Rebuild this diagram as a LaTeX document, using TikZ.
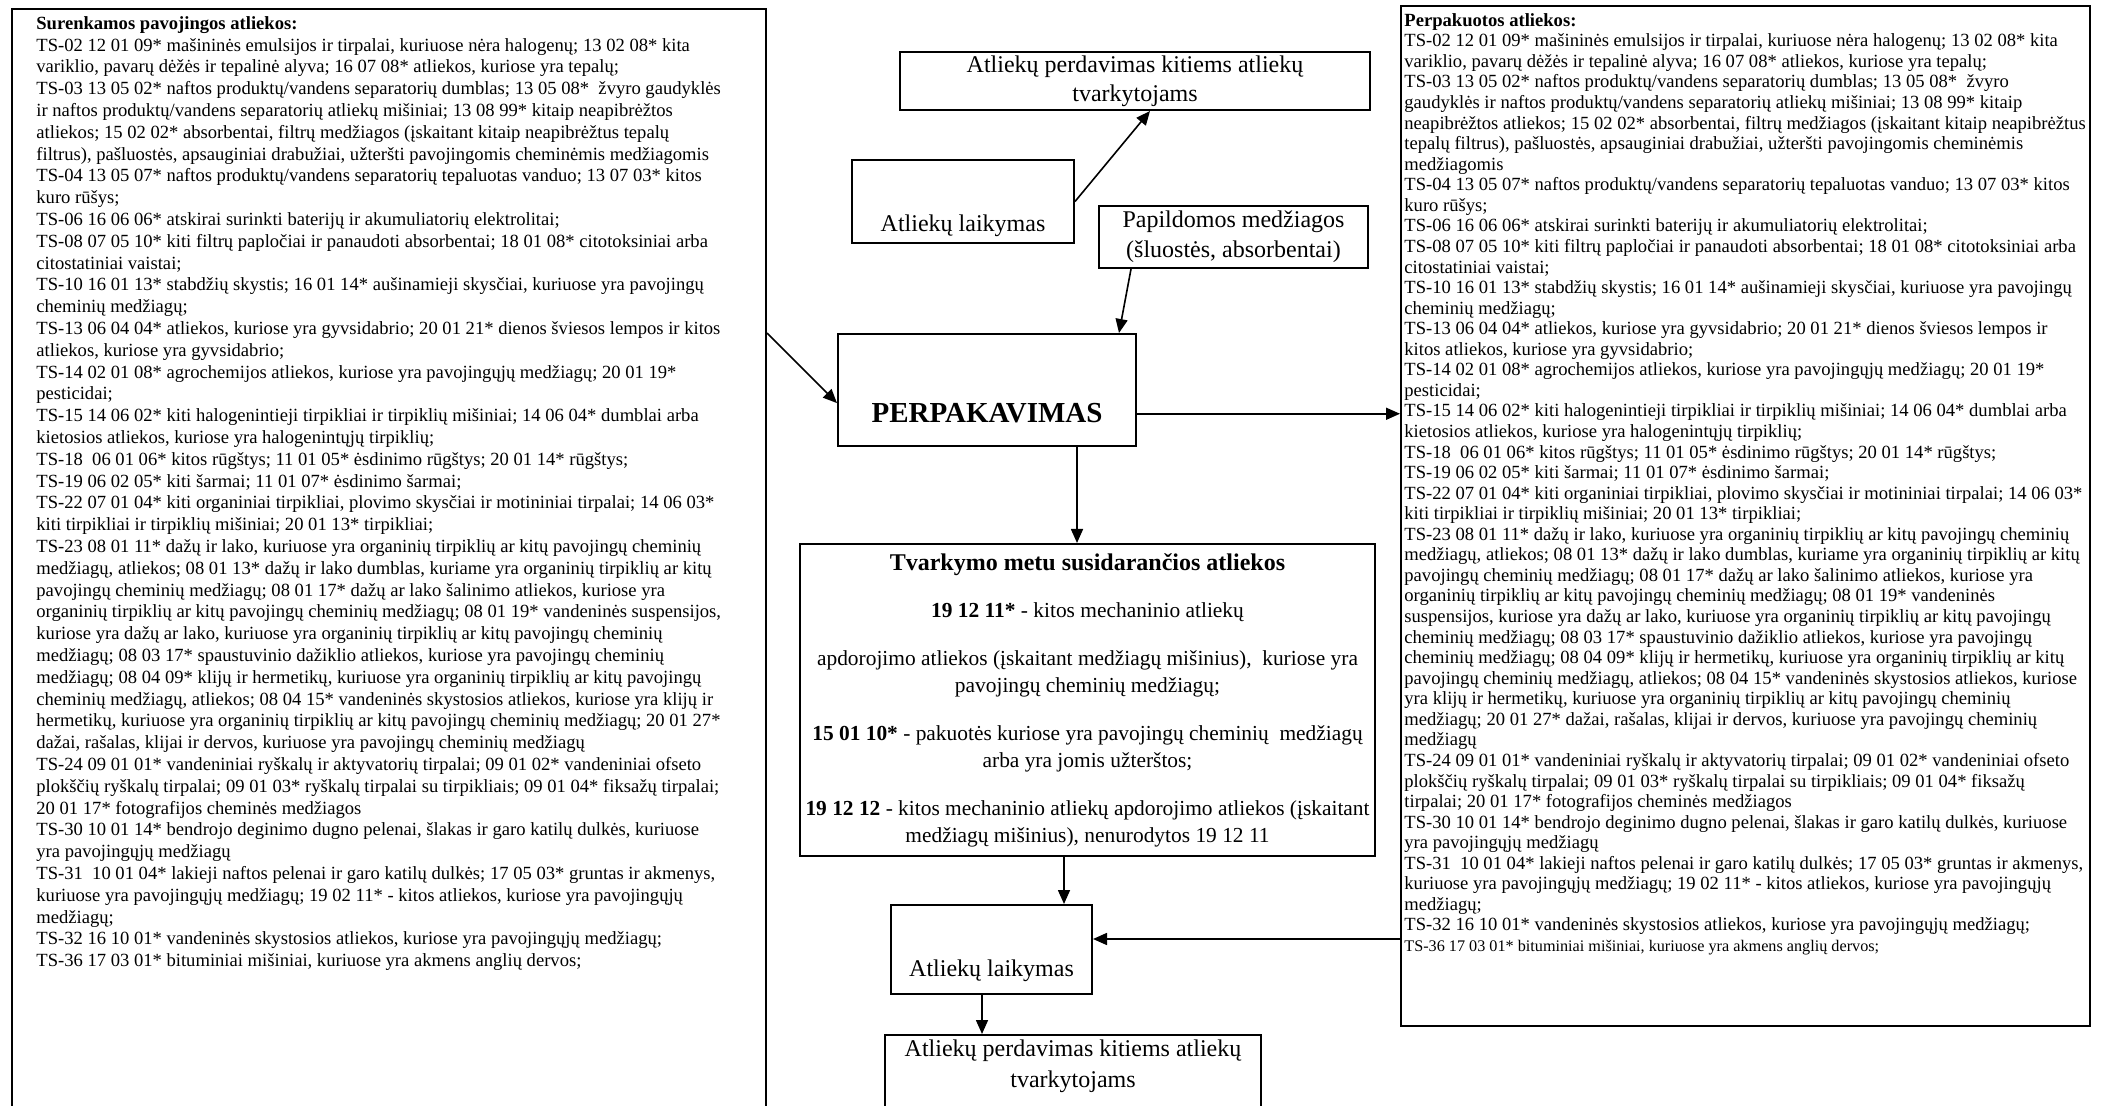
\documentclass[tikz,border=0pt]{standalone}
\usepackage{fontspec}
\setmainfont{Liberation Serif}
\usetikzlibrary{arrows.meta}

\tikzset{
	box/.style={draw, line width=1pt, inner sep=0pt},
	arr/.style={-{Triangle[length=7pt,width=6pt]}, line width=0.8pt},
	list/.style={anchor=north west, align=left, inner sep=0pt},
	flow/.style={align=center, inner sep=0pt, font=\fontsize{12}{14.5}\selectfont},
}

\begin{document}
\begin{tikzpicture}[x=0.5pt, y=-0.5pt]
			\useasboundingbox (0,0) rectangle (2103,1106);
			\clip (0,0) rectangle (2103,1106);
			
			\node[box, minimum width=377.25pt, minimum height=565.5pt] (inbox) at (388.75, 574.5) {};
			\node[box, minimum width=344.5pt, minimum height=510pt] (outbox) at (1745.5, 516) {};
			
			\node[box, flow, minimum width=235pt, minimum height=29pt] (topPass) at (1135, 81) {Atliekų perdavimas kitiems atliekų\\tvarkytojams};
			\node[box, minimum width=111pt, minimum height=41.5pt] (storeTop) at (963, 201.5) {};
			\node[flow] (storeTopT) at (963, 226) {Atliekų laikymas};
			\node[box, flow, font=\fontsize{12}{15}\selectfont, minimum width=134.5pt, minimum height=31pt] (extra) at (1233.5, 237) {Papildomos medžiagos\\(šluostės, absorbentai)};
			
			\node[box, minimum width=149pt, minimum height=56pt] (perp) at (987, 390) {};
			\node[inner sep=0pt, font=\fontsize{14.5}{16}\selectfont\bfseries] (perpT) at (987, 413) {PERPAKAVIMAS};
			
			\node[box, minimum width=287.5pt, minimum height=156pt] (sort) at (1087.5, 700) {};
			\node[anchor=north, align=center, inner sep=0pt, font=\fontsize{10.7}{13.5}\selectfont] (sortT) at (1087.5, 553) {%
				{\fontsize{12}{13.5}\selectfont\bfseries Tvarkymo metu susidarančios atliekos}\\[10pt]
				\textbf{19 12 11*} - kitos mechaninio atliekų\\[10.5pt]
				apdorojimo atliekos (įskaitant medžiagų mišinius),\ \ kuriose yra\\
				pavojingų cheminių medžiagų;\\[10.5pt]
				\textbf{15 01 10*} - pakuotės kuriose yra pavojingų cheminių\ \ medžiagų\\
				arba yra jomis užterštos;\\[10.5pt]
				\textbf{19 12 12} - kitos mechaninio atliekų apdorojimo atliekos (įskaitant\\
				medžiagų mišinius), nenurodytos 19 12 11};
			
			\node[box, minimum width=100.5pt, minimum height=44.5pt] (storeLow) at (991.5, 949.5) {};
			\node[flow] (storeLowT) at (991.5, 971) {Atliekų laikymas};
			\node[box, minimum width=188pt, minimum height=47.5pt] (outLow) at (1073, 1082.5) {};
			\node[flow, font=\fontsize{12}{15.5}\selectfont] (outLowT) at (1073, 1066.5) {Atliekų perdavimas kitiems atliekų\\tvarkytojams};
			
			\node[list, font=\fontsize{9.3}{10.9}\selectfont] (inT) at (36, 16) {%
				\textbf{Surenkamos pavojingos atliekos:}\\
				TS-02 12 01 09* mašininės emulsijos ir tirpalai, kuriuose nėra halogenų; 13 02 08* kita\\
				variklio, pavarų dėžės ir tepalinė alyva; 16 07 08* atliekos, kuriose yra tepalų;\\
				TS-03 13 05 02* naftos produktų/vandens separatorių dumblas; 13 05 08*\ \ žvyro gaudyklės\\
				ir naftos produktų/vandens separatorių atliekų mišiniai; 13 08 99* kitaip neapibrėžtos\\
				atliekos; 15 02 02* absorbentai, filtrų medžiagos (įskaitant kitaip neapibrėžtus tepalų\\
				filtrus), pašluostės, apsauginiai drabužiai, užteršti pavojingomis cheminėmis medžiagomis\\
				TS-04 13 05 07* naftos produktų/vandens separatorių tepaluotas vanduo; 13 07 03* kitos\\
				kuro rūšys;\\
				TS-06 16 06 06* atskirai surinkti baterijų ir akumuliatorių elektrolitai;\\
				TS-08 07 05 10* kiti filtrų papločiai ir panaudoti absorbentai; 18 01 08* citotoksiniai arba\\
				citostatiniai vaistai;\\
				TS-10 16 01 13* stabdžių skystis; 16 01 14* aušinamieji skysčiai, kuriuose yra pavojingų\\
				cheminių medžiagų;\\
				TS-13 06 04 04* atliekos, kuriose yra gyvsidabrio; 20 01 21* dienos šviesos lempos ir kitos\\
				atliekos, kuriose yra gyvsidabrio;\\
				TS-14 02 01 08* agrochemijos atliekos, kuriose yra pavojingųjų medžiagų; 20 01 19*\\
				pesticidai;\\
				TS-15 14 06 02* kiti halogenintieji tirpikliai ir tirpiklių mišiniai; 14 06 04* dumblai arba\\
				kietosios atliekos, kuriose yra halogenintųjų tirpiklių;\\
				TS-18\ \ 06 01 06* kitos rūgštys; 11 01 05* ėsdinimo rūgštys; 20 01 14* rūgštys;\\
				TS-19 06 02 05* kiti šarmai; 11 01 07* ėsdinimo šarmai;\\
				TS-22 07 01 04* kiti organiniai tirpikliai, plovimo skysčiai ir motininiai tirpalai; 14 06 03*\\
				kiti tirpikliai ir tirpiklių mišiniai; 20 01 13* tirpikliai;\\
				TS-23 08 01 11* dažų ir lako, kuriuose yra organinių tirpiklių ar kitų pavojingų cheminių\\
				medžiagų, atliekos; 08 01 13* dažų ir lako dumblas, kuriame yra organinių tirpiklių ar kitų\\
				pavojingų cheminių medžiagų; 08 01 17* dažų ar lako šalinimo atliekos, kuriose yra\\
				organinių tirpiklių ar kitų pavojingų cheminių medžiagų; 08 01 19* vandeninės suspensijos,\\
				kuriose yra dažų ar lako, kuriuose yra organinių tirpiklių ar kitų pavojingų cheminių\\
				medžiagų; 08 03 17* spaustuvinio dažiklio atliekos, kuriose yra pavojingų cheminių\\
				medžiagų; 08 04 09* klijų ir hermetikų, kuriuose yra organinių tirpiklių ar kitų pavojingų\\
				cheminių medžiagų, atliekos; 08 04 15* vandeninės skystosios atliekos, kuriose yra klijų ir\\
				hermetikų, kuriuose yra organinių tirpiklių ar kitų pavojingų cheminių medžiagų; 20 01 27*\\
				dažai, rašalas, klijai ir dervos, kuriuose yra pavojingų cheminių medžiagų\\
				TS-24 09 01 01* vandeniniai ryškalų ir aktyvatorių tirpalai; 09 01 02* vandeniniai ofseto\\
				plokščių ryškalų tirpalai; 09 01 03* ryškalų tirpalai su tirpikliais; 09 01 04* fiksažų tirpalai;\\
				20 01 17* fotografijos cheminės medžiagos\\
				TS-30 10 01 14* bendrojo deginimo dugno pelenai, šlakas ir garo katilų dulkės, kuriuose\\
				yra pavojingųjų medžiagų\\
				TS-31\ \ 10 01 04* lakieji naftos pelenai ir garo katilų dulkės; 17 05 03* gruntas ir akmenys,\\
				kuriuose yra pavojingųjų medžiagų; 19 02 11* - kitos atliekos, kuriose yra pavojingųjų\\
				medžiagų;\\
				TS-32 16 10 01* vandeninės skystosios atliekos, kuriose yra pavojingųjų medžiagų;\\
				TS-36 17 03 01* bituminiai mišiniai, kuriuose yra akmens anglių dervos;};
			
			\node[list, font=\fontsize{9.3}{10.28}\selectfont] (outT) at (1404, 13) {%
				\textbf{Perpakuotos atliekos:}\\
				TS-02 12 01 09* mašininės emulsijos ir tirpalai, kuriuose nėra halogenų; 13 02 08* kita\\
				variklio, pavarų dėžės ir tepalinė alyva; 16 07 08* atliekos, kuriose yra tepalų;\\
				TS-03 13 05 02* naftos produktų/vandens separatorių dumblas; 13 05 08*\ \ žvyro\\
				gaudyklės ir naftos produktų/vandens separatorių atliekų mišiniai; 13 08 99* kitaip\\
				neapibrėžtos atliekos; 15 02 02* absorbentai, filtrų medžiagos (įskaitant kitaip neapibrėžtus\\
				tepalų filtrus), pašluostės, apsauginiai drabužiai, užteršti pavojingomis cheminėmis\\
				medžiagomis\\
				TS-04 13 05 07* naftos produktų/vandens separatorių tepaluotas vanduo; 13 07 03* kitos\\
				kuro rūšys;\\
				TS-06 16 06 06* atskirai surinkti baterijų ir akumuliatorių elektrolitai;\\
				TS-08 07 05 10* kiti filtrų papločiai ir panaudoti absorbentai; 18 01 08* citotoksiniai arba\\
				citostatiniai vaistai;\\
				TS-10 16 01 13* stabdžių skystis; 16 01 14* aušinamieji skysčiai, kuriuose yra pavojingų\\
				cheminių medžiagų;\\
				TS-13 06 04 04* atliekos, kuriose yra gyvsidabrio; 20 01 21* dienos šviesos lempos ir\\
				kitos atliekos, kuriose yra gyvsidabrio;\\
				TS-14 02 01 08* agrochemijos atliekos, kuriose yra pavojingųjų medžiagų; 20 01 19*\\
				pesticidai;\\
				TS-15 14 06 02* kiti halogenintieji tirpikliai ir tirpiklių mišiniai; 14 06 04* dumblai arba\\
				kietosios atliekos, kuriose yra halogenintųjų tirpiklių;\\
				TS-18\ \ 06 01 06* kitos rūgštys; 11 01 05* ėsdinimo rūgštys; 20 01 14* rūgštys;\\
				TS-19 06 02 05* kiti šarmai; 11 01 07* ėsdinimo šarmai;\\
				TS-22 07 01 04* kiti organiniai tirpikliai, plovimo skysčiai ir motininiai tirpalai; 14 06 03*\\
				kiti tirpikliai ir tirpiklių mišiniai; 20 01 13* tirpikliai;\\
				TS-23 08 01 11* dažų ir lako, kuriuose yra organinių tirpiklių ar kitų pavojingų cheminių\\
				medžiagų, atliekos; 08 01 13* dažų ir lako dumblas, kuriame yra organinių tirpiklių ar kitų\\
				pavojingų cheminių medžiagų; 08 01 17* dažų ar lako šalinimo atliekos, kuriose yra\\
				organinių tirpiklių ar kitų pavojingų cheminių medžiagų; 08 01 19* vandeninės\\
				suspensijos, kuriose yra dažų ar lako, kuriuose yra organinių tirpiklių ar kitų pavojingų\\
				cheminių medžiagų; 08 03 17* spaustuvinio dažiklio atliekos, kuriose yra pavojingų\\
				cheminių medžiagų; 08 04 09* klijų ir hermetikų, kuriuose yra organinių tirpiklių ar kitų\\
				pavojingų cheminių medžiagų, atliekos; 08 04 15* vandeninės skystosios atliekos, kuriose\\
				yra klijų ir hermetikų, kuriuose yra organinių tirpiklių ar kitų pavojingų cheminių\\
				medžiagų; 20 01 27* dažai, rašalas, klijai ir dervos, kuriuose yra pavojingų cheminių\\
				medžiagų\\
				TS-24 09 01 01* vandeniniai ryškalų ir aktyvatorių tirpalai; 09 01 02* vandeniniai ofseto\\
				plokščių ryškalų tirpalai; 09 01 03* ryškalų tirpalai su tirpikliais; 09 01 04* fiksažų\\
				tirpalai; 20 01 17* fotografijos cheminės medžiagos\\
				TS-30 10 01 14* bendrojo deginimo dugno pelenai, šlakas ir garo katilų dulkės, kuriuose\\
				yra pavojingųjų medžiagų\\
				TS-31\ \ 10 01 04* lakieji naftos pelenai ir garo katilų dulkės; 17 05 03* gruntas ir akmenys,\\
				kuriuose yra pavojingųjų medžiagų; 19 02 11* - kitos atliekos, kuriose yra pavojingųjų\\
				medžiagų;\\
				TS-32 16 10 01* vandeninės skystosios atliekos, kuriose yra pavojingųjų medžiagų;\\
				{\fontsize{8.1}{10.28}\selectfont TS-36 17 03 01* bituminiai mišiniai, kuriuose yra akmens anglių dervos;}};
			
			% rodykles
			\draw[arr] (inbox.east |- perp.north) -- (perp.185.5);
			\draw[arr] (storeTop.east) -- ([xshift=7.5pt]topPass.south);
			\draw[arr] ([xshift=-51.25pt]extra.south) -- ([xshift=-9pt]perp.north east);
			\draw[arr] (perp.-9.5) -- (perp.-9.5 -| outbox.west);
			\draw[arr] ([xshift=45pt]perp.south) -- ([xshift=45pt]perp.south |- sort.north);
			\draw[arr] ([xshift=-11.75pt]sort.south) -- ([xshift=-11.75pt]sort.south |- storeLow.north);
			\draw[arr] ([yshift=5.25pt]storeLow.east -| outbox.west) -- ([yshift=5.25pt]storeLow.east);
			\draw[arr] ([xshift=-4.75pt]storeLow.south) -- ([xshift=-4.75pt]storeLow.south |- outLow.north);
\end{tikzpicture}
\end{document}
